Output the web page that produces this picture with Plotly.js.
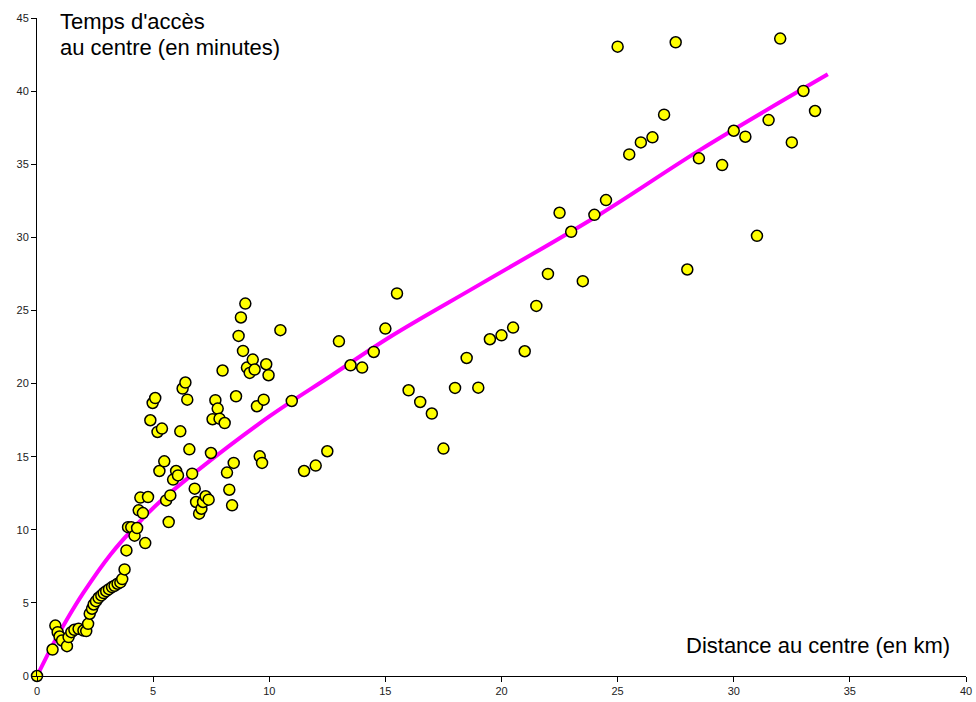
<!DOCTYPE html>
<html>
<head>
<meta charset="utf-8">
<script src="https://cdn.plot.ly/plotly-3.0.1.min.js"></script>
<style>html,body{margin:0;padding:0;background:#fff;}#chart{width:976px;height:702px;}</style>
</head>
<body>
<div id="chart"></div>
<script>
// Distance au centre (km) and temps d'accès (minutes)
const distKm = [
  0, 0.67, 0.79, 0.89, 0.97, 1.08, 1.29, 1.36, 1.48, 1.61, 1.79, 2.0, 2.12, 2.2, 2.27, 2.37, 2.44, 2.54, 2.65, 2.77,
  2.87, 2.98, 3.1, 3.23, 3.34, 3.47, 3.59, 3.67, 3.77, 3.85, 3.92, 4.06, 4.2, 4.31, 4.38, 4.56, 4.45, 4.78, 4.66,
  5.67, 5.56, 5.74, 5.86, 5.99, 6.07, 5.27, 5.48, 6.68, 6.79, 6.85, 6.98, 7.08, 7.15, 7.26, 7.39, 8.28, 8.4, 8.18,
  8.47, 9.59, 9.69, 7.49, 6.56, 6.17, 5.19, 5.38, 4.88, 4.98, 5.09, 6.27, 6.39, 6.47, 7.56, 7.68, 7.78, 7.86, 8.08,
  8.57, 7.99, 8.68, 8.78, 8.97, 8.87, 9.04, 9.16, 9.29, 9.37, 9.47, 9.76, 9.87, 9.97, 10.48, 10.97,
  11.5, 12, 12.5, 13, 13.5, 14, 14.5, 15, 15.5, 16, 16.5, 17, 17.5, 18, 18.5, 19, 19.5, 20, 20.5, 21, 21.5, 22,
  22.5, 23, 23.5, 24, 24.5, 25, 25.5, 26, 26.5, 27, 27.5, 28, 28.5, 29.5, 30, 30.5, 31, 31.5, 32, 32.5, 33, 33.5
];
const tempsMin = [
  0, 1.81, 3.45, 3.0, 2.7, 2.43, 2.04, 2.66, 3.0, 3.16, 3.23, 3.11, 3.07, 3.57, 4.26, 4.6, 4.89, 5.12, 5.35, 5.51,
  5.67, 5.8, 5.94, 6.08, 6.17, 6.31, 6.4, 6.63, 7.29, 8.59, 10.18, 10.18, 9.6, 10.12, 11.33, 11.14, 12.2, 12.24, 9.09,
  10.53, 12.01, 12.35, 13.43, 14.02, 13.72, 14.02, 14.68, 13.84, 12.81, 11.9, 11.1, 11.44, 11.9, 12.29, 12.06, 12.74, 11.67, 13.91,
  14.57, 15.02, 14.57, 15.25, 15.5, 16.73, 16.69, 16.92, 17.49, 18.67, 19.01, 19.66, 20.07, 18.9, 17.56, 18.86, 18.29, 17.6, 17.3,
  19.13, 20.89, 23.26, 24.52, 25.47, 22.23, 21.09, 20.73, 21.64, 20.96, 18.45, 18.9, 21.32, 20.57, 23.65, 18.81,
  14.02, 14.39, 15.37, 22.89, 21.25, 21.09, 22.16, 23.76, 26.16, 19.54, 18.74, 17.95, 15.55, 19.7, 21.75, 19.72, 23.03, 23.3, 23.83, 22.21, 25.31, 27.5,
  31.68, 30.38, 27.0, 31.54, 32.55, 43.04, 35.67, 36.49, 36.84, 38.39, 43.34, 27.8, 35.4, 34.94, 37.29, 36.88, 30.1, 38.02, 43.59, 36.49, 40.01, 38.64
];
// Trend curve
const curveX = [0, 0.7, 1.3, 2.0, 3.16, 4.45, 5.28, 7.03, 10.05, 12.63, 15.21, 19.09, 24.26, 28.57, 34.05];
const curveY = [0, 2.2, 3.9, 5.7, 8.3, 10.6, 11.9, 14.2, 17.8, 20.5, 23.2, 26.8, 31.6, 36.0, 41.15];

const tickVals = [0, 5, 10, 15, 20, 25, 30, 35, 40];
const yTickVals = [0, 5, 10, 15, 20, 25, 30, 35, 40, 45];
const yTitleLines = ["Temps d'accès", "au centre (en minutes)"];
const xTitle = "Distance au centre (en km)";

const font = "Arial, 'Liberation Sans', sans-serif";

const traces = [
  {
    x: curveX, y: curveY, type: 'scatter', mode: 'lines',
    line: {color: '#FF00FF', width: 4, shape: 'spline', smoothing: 1},
    hoverinfo: 'skip', cliponaxis: false
  },
  {
    x: distKm, y: tempsMin, type: 'scatter', mode: 'markers',
    marker: {color: '#FFFF00', size: 11, line: {color: '#000000', width: 1.5}},
    cliponaxis: false
  }
];

const layout = {
  width: 976, height: 702,
  margin: {l: 37, r: 10, t: 18, b: 26, pad: 0},
  paper_bgcolor: '#ffffff', plot_bgcolor: '#ffffff',
  showlegend: false,
  font: {family: font, color: '#000000'},
  xaxis: {
    range: [0, 40], tickvals: tickVals, ticktext: tickVals.map(String),
    showline: true, linecolor: '#000000', linewidth: 1,
    ticks: 'outside', ticklen: 5, tickwidth: 1, tickcolor: '#000000',
    showgrid: false, zeroline: false,
    tickfont: {family: font, size: 11, color: '#222222'}
  },
  yaxis: {
    range: [0, 45], tickvals: yTickVals, ticktext: yTickVals.map(String),
    showline: true, linecolor: '#000000', linewidth: 1,
    ticks: 'outside', ticklen: 5, tickwidth: 1, tickcolor: '#000000',
    showgrid: false, zeroline: false,
    tickfont: {family: font, size: 11, color: '#222222'}
  },
  annotations: [
    {text: yTitleLines[0], xref: 'paper', yref: 'paper', x: 0.0226, y: 0.9947,
     xanchor: 'left', yanchor: 'middle', showarrow: false,
     font: {family: font, size: 22, color: '#000000'}},
    {text: yTitleLines[1], xref: 'paper', yref: 'paper', x: 0.0226, y: 0.9552,
     xanchor: 'left', yanchor: 'middle', showarrow: false,
     font: {family: font, size: 22, color: '#000000'}},
    {text: xTitle, xref: 'paper', yref: 'paper', x: 0.9844, y: 0.0471,
     xanchor: 'right', yanchor: 'middle', showarrow: false,
     font: {family: font, size: 22, color: '#000000'}}
  ]
};

Plotly.newPlot('chart', traces, layout, {displayModeBar: false, staticPlot: true});
</script>
</body>
</html>
